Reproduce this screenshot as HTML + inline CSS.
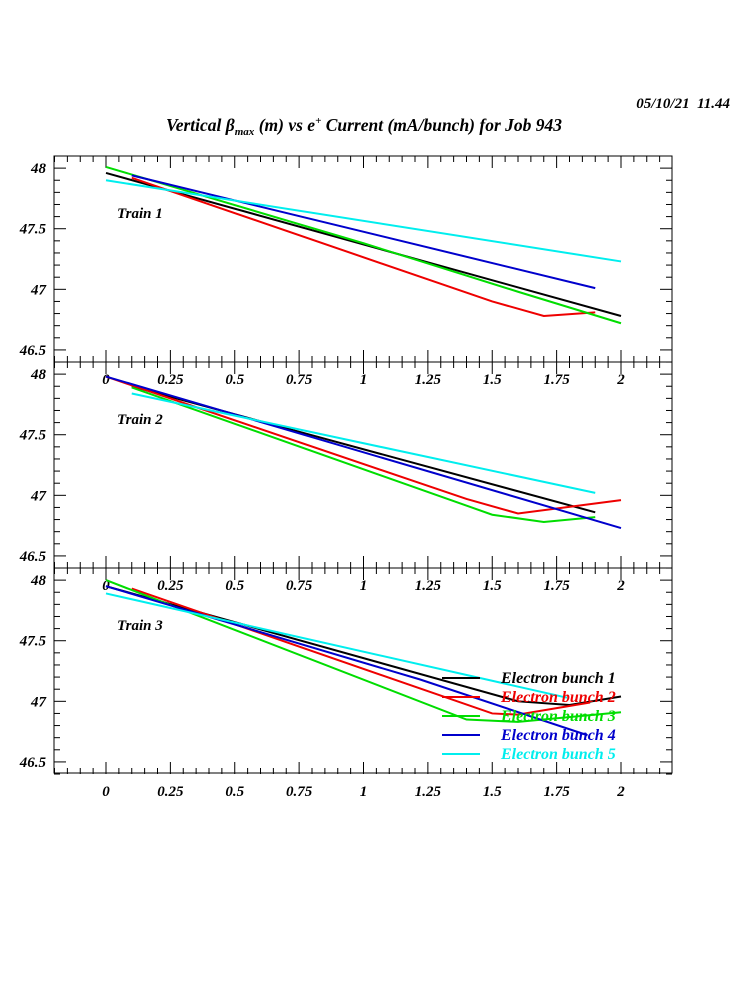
<!DOCTYPE html>
<html><head><meta charset="utf-8"><style>
html,body{margin:0;padding:0;background:#fff;}
svg text{font-family:"Liberation Serif",serif;font-weight:bold;font-style:italic;white-space:pre;}
</style></head><body>
<svg id="s" width="750" height="1000" xmlns="http://www.w3.org/2000/svg">
<rect width="750" height="1000" fill="#fff"/>
<text x="730" y="108" font-size="15" text-anchor="end" xml:space="preserve">05/10/21  11.44</text>
<text x="364" y="131" font-size="17.5" text-anchor="middle">Vertical β<tspan font-size="11" dy="4">max</tspan><tspan dy="-4"> (m) vs e</tspan><tspan font-size="11" dy="-7">+</tspan><tspan dy="7"> Current (mA/bunch) for Job 943</tspan></text>
<g id="g"></g>
</svg>
<script>
const g=document.getElementById('g');let h='';
const X=v=>106+257.5*v;
const tops=[156,362,568];
const Y=(p,v)=>tops[p]+(48.1-v)*121.2;
const C={k:'#000',r:'#e00',g:'#0d0',b:'#00c',c:'#0ee'};
const data=[
 [['k',[[0,47.96],[2,46.78]]],['r',[[0.1,47.92],[1.5,46.9],[1.7,46.78],[1.9,46.81]]],['g',[[0,48.01],[1,47.38],[1.6,46.98],[2,46.72]]],['b',[[0.1,47.94],[1.9,47.01]]],['c',[[0,47.9],[2,47.23]]]],
 [['k',[[0.1,47.9],[1.9,46.86]]],['r',[[0,47.98],[1.4,46.97],[1.6,46.85],[2,46.96]]],['g',[[0.1,47.89],[1.5,46.84],[1.7,46.78],[1.9,46.82]]],['b',[[0,47.98],[2,46.73]]],['c',[[0.1,47.84],[1.9,47.02]]]],
 [['k',[[0,47.95],[1.6,47.0],[1.8,46.97],[2,47.04]]],['r',[[0.1,47.93],[1.5,46.9],[1.6,46.89],[1.88,46.99]]],['g',[[0,48.0],[1.4,46.85],[1.6,46.83],[2,46.91]]],['b',[[0,47.95],[1.22,47.18],[1.87,46.72]]],['c',[[0,47.89],[1.79,47.03]]]]
];
for(let p=0;p<3;p++){
 const t=tops[p],b=t+206;
 h+=`<rect x="54" y="${t}" width="618" height="${p==2?205:206}" fill="none" stroke="#000" stroke-width="1"/>`;
 for(let i=-4;i<=44;i++){const v=i*0.05,x=X(v);if(x<54||x>672)continue;const L=(i%5==0)?12:6;
  h+=`<line x1="${x}" y1="${t}" x2="${x}" y2="${t+L}" stroke="#000"/><line x1="${x}" y1="${b}" x2="${x}" y2="${b-L}" stroke="#000"/>`;}
 for(let i=464;i<=481;i++){const v=i/10,y=Y(p,v);const L=(i%5==0)?12:6;
  h+=`<line x1="54" y1="${y}" x2="${54+L}" y2="${y}" stroke="#000"/><line x1="672" y1="${y}" x2="${672-L}" y2="${y}" stroke="#000"/>`;}
 [[48,'48'],[47.5,'47.5'],[47,'47'],[46.5,'46.5']].forEach(([v,s])=>h+=`<text x="46" y="${Y(p,v)+5}" font-size="15" text-anchor="end">${s}</text>`);
 ['0','0.25','0.5','0.75','1','1.25','1.5','1.75','2'].forEach((s,i)=>h+=`<text x="${X(i*0.25)}" y="${b+22}" font-size="15" text-anchor="middle">${s}</text>`);
 h+=`<text x="117" y="${t+62}" font-size="15">Train ${p+1}</text>`;
 data[p].forEach(([c,pts])=>h+=`<polyline fill="none" stroke="${C[c]}" stroke-width="2" points="${pts.map(q=>X(q[0])+','+Y(p,q[1])).join(' ')}"/>`);
}
const lg=[['k','Electron bunch 1'],['r','Electron bunch 2'],['g','Electron bunch 3'],['b','Electron bunch 4'],['c','Electron bunch 5']];
lg.forEach(([c,s],i)=>{const y=678+i*19;
 h+=`<line x1="442" y1="${y}" x2="480" y2="${y}" stroke="${C[c]}" stroke-width="2"/><text x="501" y="${y+5}" font-size="16" fill="${C[c]}">${s}</text>`;});
g.innerHTML=h;
</script>
</body></html>
